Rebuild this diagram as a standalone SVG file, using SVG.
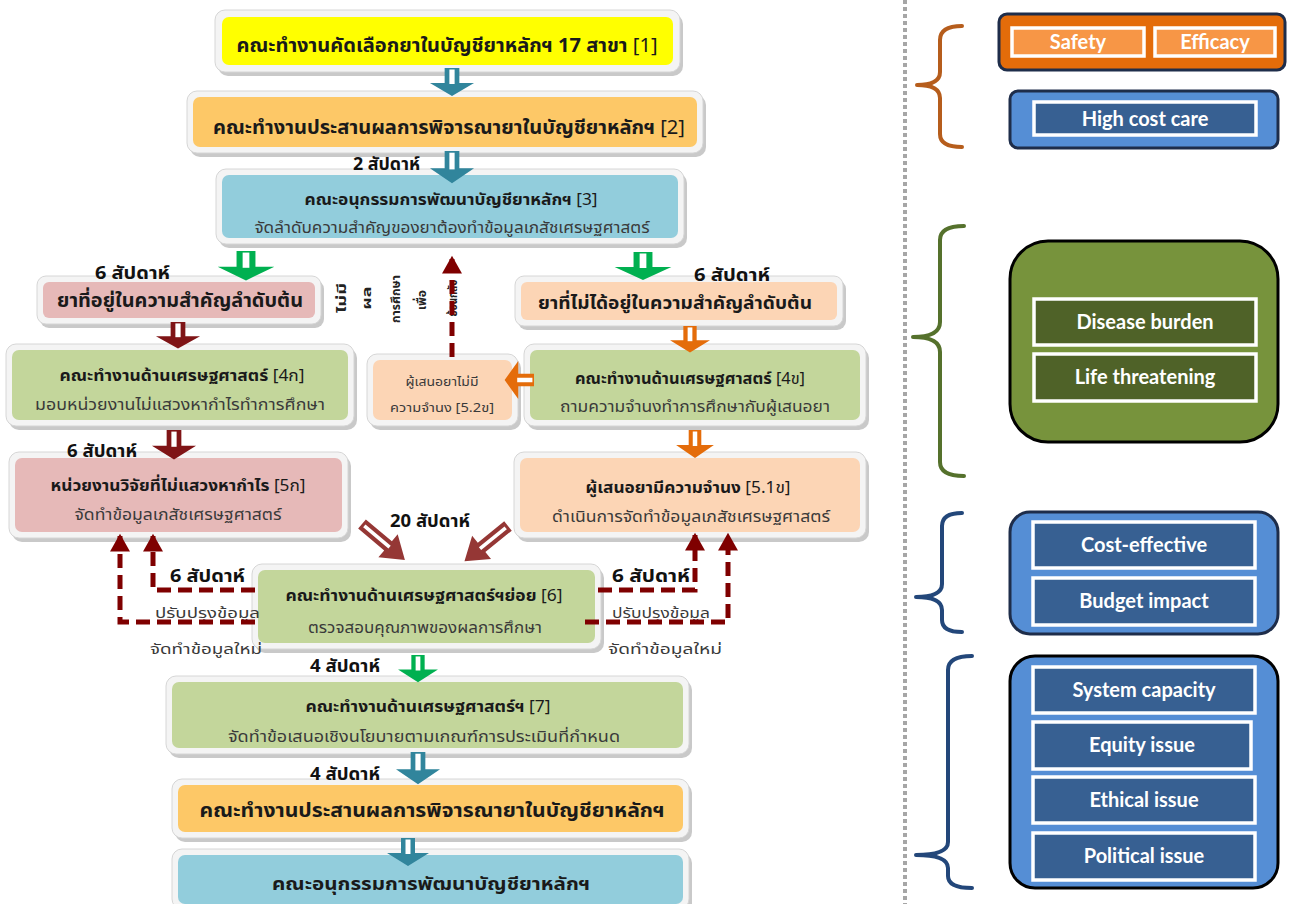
<svg xmlns="http://www.w3.org/2000/svg" xmlns:xlink="http://www.w3.org/1999/xlink" width="1292" height="904" viewBox="0 0 1292 904">
<style>
.sh{fill:#9c9c9c;opacity:.55}
.fr{fill:#f4f4f4;stroke:#d6d6d6;stroke-width:1}
.t{font-family:"Noto Sans Thai","Tahoma","DejaVu Sans",sans-serif;fill:#1a1a1a;text-anchor:middle}
.b{font-weight:bold}
.r{font-weight:normal}
.s{fill:#3a3a3a;font-weight:normal}
.wk{font-family:"Noto Sans Thai","Tahoma","DejaVu Sans",sans-serif;font-weight:bold;fill:#111;font-size:17px}
.vt{font-family:"Noto Sans Thai","Tahoma","DejaVu Sans",sans-serif;font-weight:bold;fill:#222;font-size:13px;text-anchor:middle}
.dash{fill:none;stroke:#7f0000;stroke-width:5;stroke-dasharray:14 7}
.en{font-family:Lato,"Open Sans",sans-serif;font-weight:bold;fill:#fff;font-size:20px;text-anchor:middle}
.ib{fill:#376092;stroke:#fff;stroke-width:3.5}
.brace{fill:none;stroke-width:4;stroke-linecap:round;stroke-linejoin:round}
</style>
<defs>
<g id="dn"><path d="M-7,0 H7 V15 H21 L0,28 L-21,15 H-7 Z"/><path d="M-2.5,1.5 H2.5 V16 H-2.5 Z" fill="#fff"/></g>
<g id="da"><path d="M0,-6 H34 V-15 L56,0 L34,15 V6 H0 Z"/><path d="M3,-1.8 H36 V1.8 H3 Z" fill="#fff"/></g>
<marker id="ah" markerUnits="userSpaceOnUse" markerWidth="20" markerHeight="20" viewBox="0 0 16 18" refX="14" refY="9" orient="auto"><path d="M0,0 L16,9 L0,18 Z" fill="#7f0000"/></marker>
</defs>

<!-- divider -->
<line x1="905" y1="0" x2="905" y2="904" stroke="#a6a6a6" stroke-width="4" stroke-dasharray="4 3"/>

<!-- nodes -->
<g id="n1"><rect class="sh" x="218" y="14" width="465" height="62" rx="10"/><rect class="fr" x="215" y="10" width="465" height="62" rx="10"/><rect x="222" y="17" width="451" height="48" rx="7" fill="#ffff00"/>
<text class="t b" x="447" y="52" font-size="19" textLength="421" lengthAdjust="spacingAndGlyphs">คณะทำงานคัดเลือกยาในบัญชียาหลักฯ 17 สาขา <tspan class="r">[1]</tspan></text></g>

<g id="n2"><rect class="sh" x="190" y="95" width="516" height="62" rx="10"/><rect class="fr" x="187" y="91" width="516" height="62" rx="10"/><rect x="193" y="97" width="504" height="50" rx="7" fill="#fdc867"/>
<text class="t b" x="449" y="134" font-size="19" textLength="472" lengthAdjust="spacingAndGlyphs">คณะทำงานประสานผลการพิจารณายาในบัญชียาหลักฯ <tspan class="r">[2]</tspan></text></g>

<g id="n3"><rect class="sh" x="219" y="173" width="468" height="75" rx="10"/><rect class="fr" x="216" y="169" width="468" height="75" rx="10"/><rect x="222" y="175" width="456" height="63" rx="7" fill="#92cddc"/>
<text class="t b" x="451" y="205" font-size="16" textLength="293" lengthAdjust="spacingAndGlyphs">คณะอนุกรรมการพัฒนาบัญชียาหลักฯ  <tspan class="r">[3]</tspan></text>
<text class="t s" x="452" y="233" font-size="15" textLength="395" lengthAdjust="spacingAndGlyphs">จัดลำดับความสำคัญของยาต้องทำข้อมูลเภสัชเศรษฐศาสตร์</text></g>

<g id="n4"><rect class="sh" x="40" y="280" width="284" height="48" rx="9"/><rect class="fr" x="37" y="276" width="284" height="48" rx="9"/><rect x="43" y="282" width="272" height="36" rx="6" fill="#e6b9b8"/>
<text class="t b" x="180" y="307" font-size="19" textLength="246" lengthAdjust="spacingAndGlyphs">ยาที่อยู่ในความสำคัญลำดับต้น</text></g>

<g id="n5"><rect class="sh" x="518" y="280" width="328" height="50" rx="9"/><rect class="fr" x="515" y="276" width="328" height="50" rx="9"/><rect x="521" y="282" width="316" height="38" rx="6" fill="#fcd5b5"/>
<text class="t b" x="675" y="309" font-size="18" textLength="274" lengthAdjust="spacingAndGlyphs">ยาที่ไม่ได้อยู่ในความสำคัญลำดับต้น</text></g>

<g id="n6"><rect class="sh" x="9" y="348" width="348" height="82" rx="10"/><rect class="fr" x="6" y="344" width="348" height="82" rx="10"/><rect x="12" y="350" width="336" height="70" rx="7" fill="#c3d69b"/>
<text class="t b" x="182" y="381" font-size="16" textLength="245" lengthAdjust="spacingAndGlyphs">คณะทำงานด้านเศรษฐศาสตร์ <tspan class="r">[4ก]</tspan></text>
<text class="t s" x="180" y="410" font-size="15" textLength="290" lengthAdjust="spacingAndGlyphs">มอบหน่วยงานไม่แสวงหากำไรทำการศึกษา</text></g>

<g id="n7"><rect class="sh" x="370" y="358" width="151" height="72" rx="10"/><rect class="fr" x="367" y="354" width="151" height="72" rx="10"/><rect x="373" y="360" width="139" height="60" rx="7" fill="#fcd5b5"/>
<text class="t s" x="442" y="386" font-size="13" textLength="73" lengthAdjust="spacingAndGlyphs">ผู้เสนอยาไม่มี</text>
<text class="t s" x="442" y="412" font-size="13" textLength="104" lengthAdjust="spacingAndGlyphs">ความจำนง [5.2ข]</text></g>

<g id="n8"><rect class="sh" x="527" y="348" width="342" height="82" rx="10"/><rect class="fr" x="524" y="344" width="342" height="82" rx="10"/><rect x="530" y="350" width="330" height="70" rx="7" fill="#c3d69b"/>
<text class="t b" x="690" y="384" font-size="16" textLength="230" lengthAdjust="spacingAndGlyphs">คณะทำงานด้านเศรษฐศาสตร์ <tspan class="r">[4ข]</tspan></text>
<text class="t s" x="695" y="412" font-size="15" textLength="270" lengthAdjust="spacingAndGlyphs">ถามความจำนงทำการศึกษากับผู้เสนอยา</text></g>

<g id="n9"><rect class="sh" x="12" y="456" width="339" height="86" rx="10"/><rect class="fr" x="9" y="452" width="339" height="86" rx="10"/><rect x="15" y="458" width="327" height="74" rx="7" fill="#e6b9b8"/>
<text class="t b" x="178" y="491" font-size="16" textLength="255" lengthAdjust="spacingAndGlyphs">หน่วยงานวิจัยที่ไม่แสวงหากำไร <tspan class="r">[5ก]</tspan></text>
<text class="t s" x="178" y="520" font-size="15" textLength="207" lengthAdjust="spacingAndGlyphs">จัดทำข้อมูลเภสัชเศรษฐศาสตร์</text></g>

<g id="n10"><rect class="sh" x="517" y="456" width="352" height="86" rx="10"/><rect class="fr" x="514" y="452" width="352" height="86" rx="10"/><rect x="520" y="458" width="340" height="74" rx="7" fill="#fcd5b5"/>
<text class="t b" x="688" y="493" font-size="16" textLength="205" lengthAdjust="spacingAndGlyphs">ผู้เสนอยามีความจำนง <tspan class="r">[5.1ข]</tspan></text>
<text class="t s" x="691" y="522" font-size="15" textLength="278" lengthAdjust="spacingAndGlyphs">ดำเนินการจัดทำข้อมูลเภสัชเศรษฐศาสตร์</text></g>

<g id="n11"><rect class="sh" x="255" y="568" width="349" height="85" rx="10"/><rect class="fr" x="252" y="564" width="349" height="85" rx="10"/><rect x="258" y="570" width="337" height="73" rx="7" fill="#c3d69b"/>
<text class="t b" x="424" y="601" font-size="16" textLength="277" lengthAdjust="spacingAndGlyphs">คณะทำงานด้านเศรษฐศาสตร์ฯย่อย <tspan class="r">[6]</tspan></text>
<text class="t s" x="425" y="633" font-size="15" textLength="234" lengthAdjust="spacingAndGlyphs">ตรวจสอบคุณภาพของผลการศึกษา</text></g>

<g id="n12"><rect class="sh" x="169" y="680" width="523" height="78" rx="10"/><rect class="fr" x="166" y="676" width="523" height="78" rx="10"/><rect x="172" y="682" width="511" height="66" rx="7" fill="#c3d69b"/>
<text class="t b" x="428" y="712" font-size="16" textLength="245" lengthAdjust="spacingAndGlyphs">คณะทำงานด้านเศรษฐศาสตร์ฯ <tspan class="r">[7]</tspan></text>
<text class="t s" x="424" y="742" font-size="15" textLength="392" lengthAdjust="spacingAndGlyphs">จัดทำข้อเสนอเชิงนโยบายตามเกณฑ์การประเมินที่กำหนด</text></g>

<g id="n13"><rect class="sh" x="175" y="783" width="517" height="59" rx="10"/><rect class="fr" x="172" y="779" width="517" height="59" rx="10"/><rect x="178" y="785" width="505" height="47" rx="7" fill="#fdc867"/>
<text class="t b" x="432" y="817" font-size="19" textLength="465" lengthAdjust="spacingAndGlyphs">คณะทำงานประสานผลการพิจารณายาในบัญชียาหลักฯ</text></g>

<g id="n14"><rect class="sh" x="175" y="853" width="517" height="60" rx="10"/><rect class="fr" x="172" y="849" width="517" height="60" rx="10"/><rect x="178" y="855" width="505" height="49" rx="7" fill="#92cddc"/>
<text class="t b" x="431" y="890" font-size="18" textLength="318" lengthAdjust="spacingAndGlyphs">คณะอนุกรรมการพัฒนาบัญชียาหลักฯ</text></g>

<!-- labels -->
<g id="labels">
<text class="wk" x="353" y="170" textLength="67" lengthAdjust="spacingAndGlyphs">2 สัปดาห์</text>
<text class="wk" x="95" y="279" textLength="75" lengthAdjust="spacingAndGlyphs">6 สัปดาห์</text>
<text class="wk" x="694" y="281" textLength="76" lengthAdjust="spacingAndGlyphs">6 สัปดาห์</text>
<text class="wk" x="67" y="457" textLength="70" lengthAdjust="spacingAndGlyphs">6 สัปดาห์</text>
<text class="wk" x="390" y="527" textLength="80" lengthAdjust="spacingAndGlyphs">20 สัปดาห์</text>
<text class="wk" x="170" y="582" textLength="75" lengthAdjust="spacingAndGlyphs">6 สัปดาห์</text>
<text class="wk" x="612" y="582" textLength="78" lengthAdjust="spacingAndGlyphs">6 สัปดาห์</text>
<text class="wk" x="310" y="672" textLength="70" lengthAdjust="spacingAndGlyphs">4 สัปดาห์</text>
<text class="wk" x="310" y="780" textLength="70" lengthAdjust="spacingAndGlyphs">4 สัปดาห์</text>
<text class="t s" style="text-anchor:start" x="155" y="618" font-size="14" textLength="105" lengthAdjust="spacingAndGlyphs">ปรับปรุงข้อมูล</text>
<text class="t s" style="text-anchor:start" x="150" y="654" font-size="14" textLength="112" lengthAdjust="spacingAndGlyphs">จัดทำข้อมูลใหม่</text>
<text class="t s" style="text-anchor:start" x="612" y="618" font-size="14" textLength="98" lengthAdjust="spacingAndGlyphs">ปรับปรุงข้อมูล</text>
<text class="t s" style="text-anchor:start" x="608" y="654" font-size="14" textLength="114" lengthAdjust="spacingAndGlyphs">จัดทำข้อมูลใหม่</text>
<text class="vt" transform="translate(346,298) rotate(-90)" textLength="30" lengthAdjust="spacingAndGlyphs">ไม่มี</text>
<text class="vt" transform="translate(371,298) rotate(-90)" textLength="23" lengthAdjust="spacingAndGlyphs">ผล</text>
<text class="vt" transform="translate(400,299) rotate(-90)" textLength="48" lengthAdjust="spacingAndGlyphs">การศึกษา</text>
<text class="vt" transform="translate(426,300) rotate(-90)" textLength="20" lengthAdjust="spacingAndGlyphs">เพื่อ</text>
<text class="vt" transform="translate(457,298) rotate(-90)" textLength="37" lengthAdjust="spacingAndGlyphs">ย้อนกลับ</text>
</g>

<!-- connectors -->
<g id="connectors">
<use xlink:href="#dn" href="#dn" fill="#31859c" transform="translate(452,68) scale(1.05,1)"/>
<use xlink:href="#dn" href="#dn" fill="#31859c" transform="translate(452,151) scale(1.05,1.15)"/>
<use xlink:href="#dn" href="#dn" fill="#00b050" transform="translate(246,251) scale(1.35,1.05)"/>
<use xlink:href="#dn" href="#dn" fill="#00b050" transform="translate(643,252) scale(1.35,1)"/>
<use xlink:href="#dn" href="#dn" fill="#7f1416" transform="translate(178,322) scale(1.05,0.95)"/>
<use xlink:href="#dn" href="#dn" fill="#e46c0a" transform="translate(690,326) scale(0.95,0.95)"/>
<use xlink:href="#dn" href="#dn" fill="#e46c0a" transform="translate(534,380) rotate(90) scale(0.9,1.05)"/>
<use xlink:href="#dn" href="#dn" fill="#7f1416" transform="translate(174,430) scale(1.05,1.05)"/>
<use xlink:href="#dn" href="#dn" fill="#e46c0a" transform="translate(695,430) scale(0.9,1)"/>
<use xlink:href="#dn" href="#dn" fill="#00b050" transform="translate(418,655) scale(0.95,0.97)"/>
<use xlink:href="#dn" href="#dn" fill="#31859c" transform="translate(418,752) scale(1.05,1.15)"/>
<use xlink:href="#dn" href="#dn" fill="#31859c" transform="translate(408,838) scale(1.0,1.0)"/>
<use xlink:href="#da" href="#da" fill="#953735" transform="translate(362,524) rotate(40)"/>
<use xlink:href="#da" href="#da" fill="#953735" transform="translate(508,526) rotate(141)"/>
<path class="dash" d="M452,357 V258" marker-end="url(#ah)"/>
<path class="dash" d="M255,590 H153 V536" marker-end="url(#ah)"/>
<path class="dash" d="M255,622 H120 V536" marker-end="url(#ah)"/>
<path class="dash" d="M598,590 H695 V535" marker-end="url(#ah)"/>
<path class="dash" d="M585,622 H728 V535" marker-end="url(#ah)"/>
</g>

<!-- right panel -->
<g id="brace1"><path class="brace" stroke="#b65d1c" d="M962,26 Q940,26 940,40 V72 Q940,85 917,85 Q940,85 940,98 V134 Q940,147 962,147"/></g>
<g id="brace2"><path class="brace" stroke="#55712c" d="M964,226 Q940,226 940,240 V322 Q940,337 913,337 Q940,337 940,352 V462 Q940,476 964,476"/></g>
<g id="brace3"><path class="brace" stroke="#23477a" d="M962,513 Q942,513 942,526 V584 Q942,597 916,597 Q942,597 942,610 V620 Q942,632 962,632"/></g>
<g id="brace4"><path class="brace" stroke="#23477a" d="M972,656 Q948,656 948,670 V842 Q948,855 916,855 Q948,855 948,868 V876 Q948,888 972,888"/></g>

<g id="r1"><rect x="999" y="14" width="286" height="56" rx="8" fill="#e46c0a" stroke="#1e2d4a" stroke-width="3"/>
<rect x="1012" y="28" width="132" height="28" fill="#f79646" stroke="#fff" stroke-width="3.5"/>
<rect x="1155" y="28" width="120" height="28" fill="#f79646" stroke="#fff" stroke-width="3.5"/>
<text class="en" x="1078" y="49">Safety</text><text class="en" x="1215" y="49">Efficacy</text></g>

<g id="r2"><rect x="1010" y="91" width="268" height="57" rx="8" fill="#558ed5" stroke="#1e2d4a" stroke-width="3"/>
<rect class="ib" x="1034" y="102" width="222" height="33"/>
<text class="en" x="1145" y="126">High cost care</text></g>

<g id="r3"><rect x="1010" y="241" width="268" height="201" rx="38" fill="#77933c" stroke="#000" stroke-width="3"/>
<rect x="1034" y="299" width="222" height="46" fill="#4f6228" stroke="#fff" stroke-width="3.5"/>
<rect x="1034" y="354" width="222" height="47" fill="#4f6228" stroke="#fff" stroke-width="3.5"/>
<text class="en" x="1145" y="329">Disease burden</text><text class="en" x="1145" y="384">Life threatening</text></g>

<g id="r4"><rect x="1010" y="512" width="268" height="122" rx="20" fill="#558ed5" stroke="#1e2d4a" stroke-width="3"/>
<rect class="ib" x="1033" y="522" width="222" height="46"/>
<rect class="ib" x="1033" y="578" width="222" height="47"/>
<text class="en" x="1144" y="552">Cost-effective</text><text class="en" x="1144" y="608">Budget impact</text></g>

<g id="r5"><rect x="1010" y="656" width="268" height="232" rx="25" fill="#558ed5" stroke="#000" stroke-width="3"/>
<rect class="ib" x="1033" y="667" width="222" height="46"/>
<rect class="ib" x="1033" y="722" width="218" height="47"/>
<rect class="ib" x="1033" y="777" width="222" height="46"/>
<rect class="ib" x="1033" y="833" width="222" height="47"/>
<text class="en" x="1144" y="697">System capacity</text><text class="en" x="1142" y="752">Equity issue</text>
<text class="en" x="1144" y="807">Ethical issue</text><text class="en" x="1144" y="863">Political issue</text></g>
</svg>
